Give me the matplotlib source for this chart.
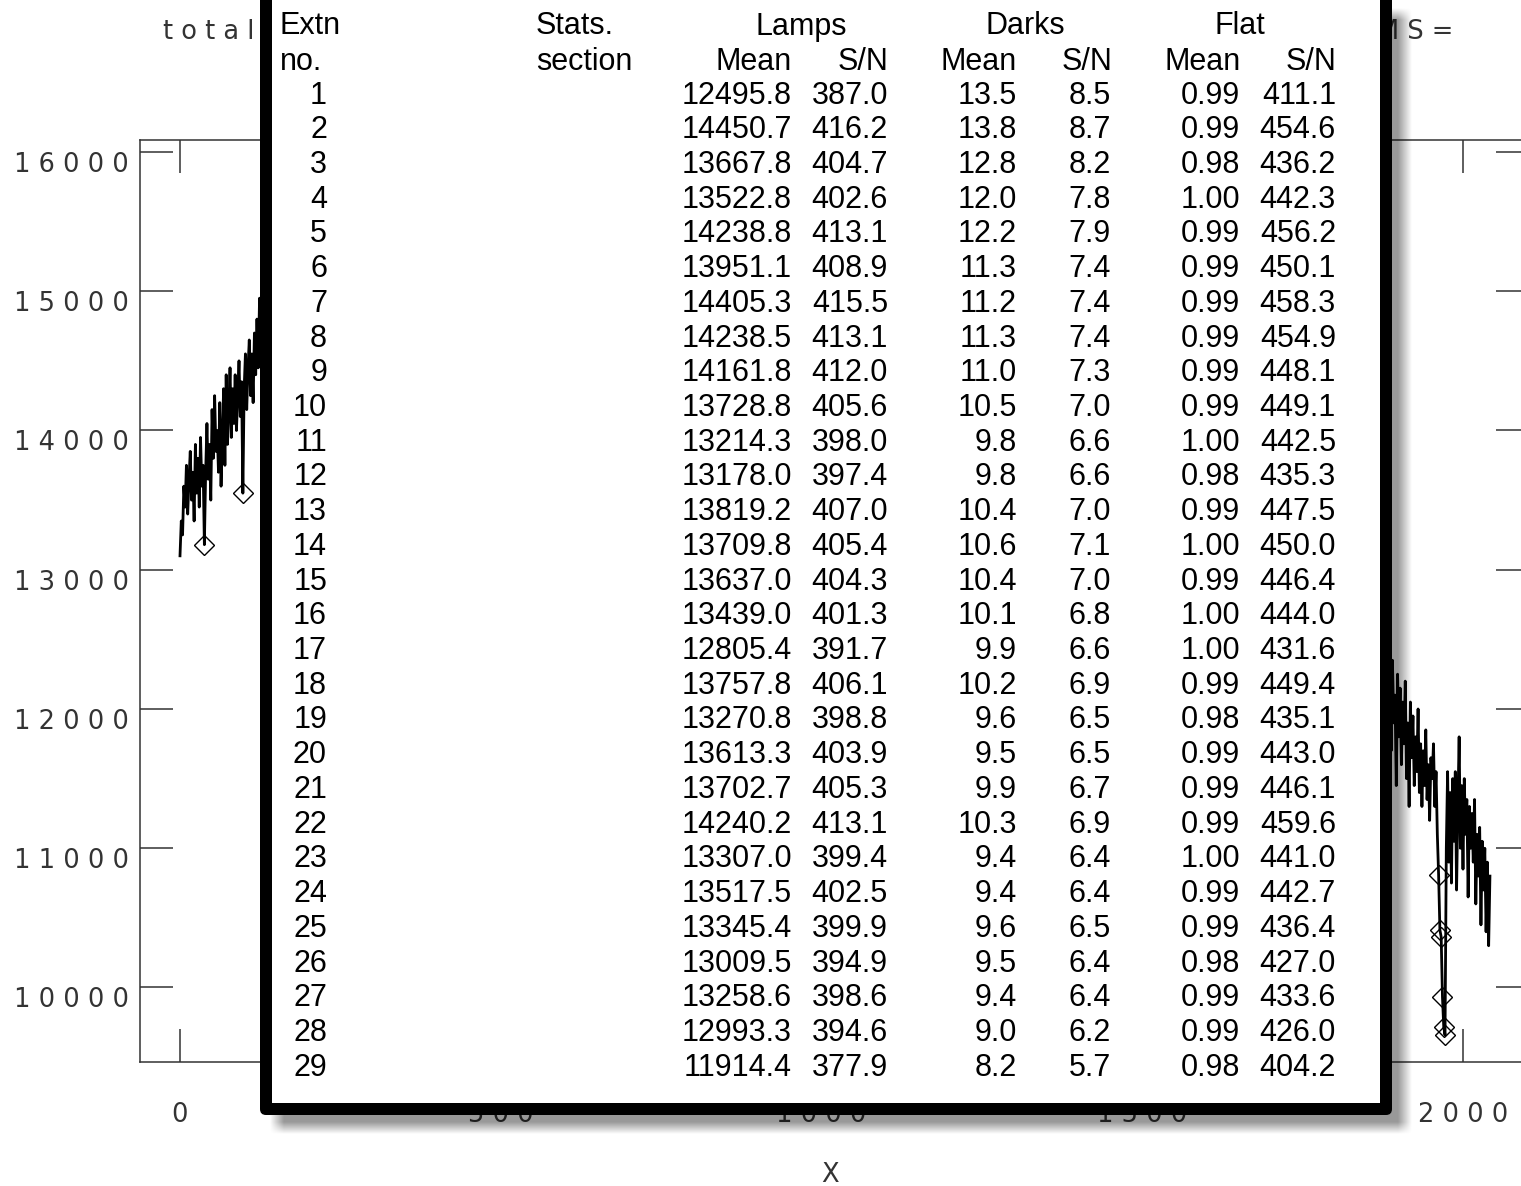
import numpy as np
import matplotlib
matplotlib.use('Agg')
import matplotlib.pyplot as plt
import matplotlib.transforms as mtransforms
from matplotlib.patches import FancyBboxPatch, Rectangle

W, H = 1521, 1186

# extracted flux, the two ends of the order that stay in view
left_start = 0
left_flux = [13100, 13350, 13250, 13600, 13450, 13750, 13400, 13650, 13850, 13500,
             13700, 13350, 13900, 13550, 13800, 13450, 13950, 13600, 13750, 13180,
             13700, 14050, 13650, 13900, 13500, 14150, 13800, 14250, 13850, 14000,
             13700, 14200, 13600, 13950, 14300, 13750, 14400, 13900, 14150, 14450,
             13950, 14300, 14050, 14400, 14000, 14250, 14500, 14100, 14350, 13550,
             14300, 14550, 14150, 14450, 14650, 14250, 14550, 14200, 14700, 14400,
             14800, 14450, 14950, 14600]
right_start = 1886
right_flux = [12200, 11700, 12350, 11900, 12100, 11450, 12250, 11800, 12150, 11600,
              12050, 11750, 12200, 11500, 11900, 11300, 12050, 11650, 11950, 11450,
              11800, 11550, 12000, 11400, 11750, 11300, 11700, 11450, 11850, 11350,
              11600, 11200, 11650, 11500, 11750, 11300, 11550, 11100, 10808, 10413,
              10363, 9932, 9716, 9659, 11000, 11550, 10900, 11400, 10750, 11500,
              11050, 11550, 10700, 11300, 11800, 11000, 11450, 10850, 11500, 11100,
              11350, 10650, 11300, 11000, 11250, 10900, 11350, 10600, 11100, 10800,
              11150, 10450, 11050, 10700, 11000, 10400, 10900, 10300, 10800]
pix_step = 2
# flagged (rejected) pixels, as indices into the arrays above
left_bad = [19, 49]
right_bad = [38, 39, 40, 41, 42, 43]

x_ticks = [0, 500, 1000, 1500, 2000]
y_ticks = [10000, 11000, 12000, 13000, 14000, 15000, 16000]

# extraction statistics per order
extn_no = list(range(1, 30))
lamp_mean = [12495.8, 14450.7, 13667.8, 13522.8, 14238.8, 13951.1, 14405.3, 14238.5,
             14161.8, 13728.8, 13214.3, 13178.0, 13819.2, 13709.8, 13637.0, 13439.0,
             12805.4, 13757.8, 13270.8, 13613.3, 13702.7, 14240.2, 13307.0, 13517.5,
             13345.4, 13009.5, 13258.6, 12993.3, 11914.4]
lamp_sn = [387.0, 416.2, 404.7, 402.6, 413.1, 408.9, 415.5, 413.1, 412.0, 405.6,
           398.0, 397.4, 407.0, 405.4, 404.3, 401.3, 391.7, 406.1, 398.8, 403.9,
           405.3, 413.1, 399.4, 402.5, 399.9, 394.9, 398.6, 394.6, 377.9]
dark_mean = [13.5, 13.8, 12.8, 12.0, 12.2, 11.3, 11.2, 11.3, 11.0, 10.5, 9.8, 9.8,
             10.4, 10.6, 10.4, 10.1, 9.9, 10.2, 9.6, 9.5, 9.9, 10.3, 9.4, 9.4, 9.6,
             9.5, 9.4, 9.0, 8.2]
dark_sn = [8.5, 8.7, 8.2, 7.8, 7.9, 7.4, 7.4, 7.4, 7.3, 7.0, 6.6, 6.6, 7.0, 7.1,
           7.0, 6.8, 6.6, 6.9, 6.5, 6.5, 6.7, 6.9, 6.4, 6.4, 6.5, 6.4, 6.4, 6.2, 5.7]
flat_mean = [0.99, 0.99, 0.98, 1.00, 0.99, 0.99, 0.99, 0.99, 0.99, 0.99, 1.00, 0.98,
             0.99, 1.00, 0.99, 1.00, 1.00, 0.99, 0.98, 0.99, 0.99, 0.99, 1.00, 0.99,
             0.99, 0.98, 0.99, 0.99, 0.98]
flat_sn = [411.1, 454.6, 436.2, 442.3, 456.2, 450.1, 458.3, 454.9, 448.1, 449.1,
           442.5, 435.3, 447.5, 450.0, 446.4, 444.0, 431.6, 449.4, 435.1, 443.0,
           446.1, 459.6, 441.0, 442.7, 436.4, 427.0, 433.6, 426.0, 404.2]


def spaced(s):
    return ' '.join(str(s))


fig = plt.figure(figsize=(W / 100, H / 100), dpi=100)
fig.patch.set_facecolor('white')

# ---- the plot underneath -------------------------------------------------
ax = fig.add_axes([140 / W, 1 - 1062 / H, 1389 / W, 922 / H], zorder=1)
ax.set_xlim(-62.35, 2102.9)
ax.set_ylim(9465, 16086)

lx = left_start + pix_step * np.arange(len(left_flux))
rx = right_start + pix_step * np.arange(len(right_flux))
ly = np.array(left_flux)
ry = np.array(right_flux)
for xx, yy, bad in [(lx, ly, left_bad), (rx, ry, right_bad)]:
    ax.plot(xx, yy, color='black', lw=2.0)
    ax.plot(xx[bad], yy[bad], ls='none', marker='D', ms=10, mfc='none',
            mec='black', mew=1.0)

axis_grey = '#333333'
lab_size = 18.5
tick_font = dict(family='DejaVu Sans', weight='normal')
ax.set_xticks(x_ticks, labels=[spaced(t) for t in x_ticks])
ax.set_yticks(y_ticks, labels=[spaced(t) for t in y_ticks])
ax.tick_params(direction='in', length=24, width=1.1, color=axis_grey,
               top=True, right=True, labelsize=lab_size, labelcolor=axis_grey)
ax.tick_params(axis='x', pad=29)
ax.tick_params(axis='y', pad=8)
for lab in ax.get_yticklabels():
    lab.set_va('top')
for sp in ax.spines.values():
    sp.set_color(axis_grey)
    sp.set_linewidth(1.1)

ax.set_xlabel('X', fontsize=lab_size, color=axis_grey, **tick_font)
ax.xaxis.set_label_coords((830 - 140) / 1389, (1062 - 1175) / 922)
ax.xaxis.label.set_va('center')

# page transform: pixels, origin at top-left
page = mtransforms.Affine2D().scale(1 / W, -1 / H).translate(0, 1) + fig.transFigure
fig.text(163, 32, 't o t a l', transform=page, fontsize=lab_size, color=axis_grey,
         ha='left', va='center', zorder=2, **tick_font)
fig.text(1453, 32, 'R M S =', transform=page, fontsize=lab_size, color=axis_grey,
         ha='right', va='center', zorder=2, **tick_font)

# ---- statistics window on top ------------------------------------------
ov = fig.add_axes([0, 0, 1, 1], zorder=10)
ov.set_xlim(0, W)
ov.set_ylim(H, 0)
ov.axis('off')
ov.patch.set_alpha(0)

# soft drop shadow
xs = np.arange(W) + 0.5
ys = np.arange(H) + 0.5


def soft_box(v, a, b, s):
    return np.clip((v - (a - s)) / (2 * s), 0, 1) * np.clip(((b + s) - v) / (2 * s), 0, 1)


shade = np.outer(soft_box(ys, 14, 1128, 6), soft_box(xs, 277, 1405, 7))
rgba = np.zeros((H, W, 4))
rgba[..., 3] = 0.40 * shade
ov.imshow(rgba, extent=(0, W, H, 0), origin='upper', interpolation='nearest',
          aspect='auto', zorder=0)

ov.add_patch(FancyBboxPatch((260, -20), 1132, 1135,
                            boxstyle='round,pad=0,rounding_size=6',
                            fc='black', ec='none', zorder=1))
ov.add_patch(Rectangle((272, -20), 1108, 1123, fc='white', ec='none', zorder=2))

tfont = dict(family='Liberation Sans', fontsize=22,
             color='black', va='baseline', zorder=3)
base = 11.5
hdr1, hdr2 = 23, 58
ov.text(280, hdr1 + base, 'Extn', ha='left', **tfont)
ov.text(280, hdr2 + base, 'no.', ha='left', **tfont)
ov.text(536, hdr1 + base, 'Stats.', ha='left', **tfont)
ov.text(536, hdr2 + base, 'section', ha='left', **tfont)
for name, cx in [('Lamps', 801), ('Darks', 1025), ('Flat', 1240)]:
    ov.text(cx, hdr1 + base, name, ha='center', **tfont)
for mx, sx in [(792, 888), (1017, 1112), (1241, 1336)]:
    ov.text(mx, hdr2 + base, 'Mean', ha='right', **tfont)
    ov.text(sx, hdr2 + base, 'S/N', ha='right', **tfont)

cols = [(327, extn_no, '{:d}'), (792, lamp_mean, '{:.1f}'), (888, lamp_sn, '{:.1f}'),
        (1017, dark_mean, '{:.1f}'), (1111, dark_sn, '{:.1f}'),
        (1240, flat_mean, '{:.2f}'), (1336, flat_sn, '{:.1f}')]
row_h = 34.72
for i in range(len(extn_no)):
    y = 92 + i * row_h + base
    for rx_, vals, fmt in cols:
        ov.text(rx_, y, fmt.format(vals[i]), ha='right', **tfont)

fig.savefig('out.png', dpi=100)
